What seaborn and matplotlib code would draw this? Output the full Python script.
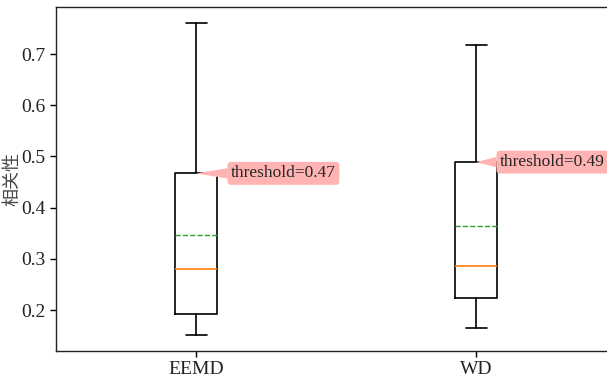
"""
Boxplot of correlation values: EEMD vs WD with Q3 threshold labels
"""

import matplotlib
matplotlib.use("Agg")
import matplotlib.pyplot as plt
import seaborn as sns

# Data
methods = ["EEMD", "WD"]
whisker_low = [0.151, 0.165]
q1 = [0.192, 0.223]
medians = [0.280, 0.286]
means = [0.346, 0.364]
q3 = [0.467, 0.489]
whisker_high = [0.760, 0.718]
thresholds = ["threshold=0.47", "threshold=0.49"]

sns.set_theme(style="ticks")
plt.rcParams['font.family'] = ['Liberation Serif', 'Noto Sans CJK SC']
plt.rcParams['xtick.direction'] = 'out'
plt.rcParams['ytick.direction'] = 'out'

stats = []
for i, name in enumerate(methods):
    stats.append({
        'label': name,
        'whislo': whisker_low[i],
        'q1': q1[i],
        'med': medians[i],
        'mean': means[i],
        'q3': q3[i],
        'whishi': whisker_high[i],
        'fliers': [],
    })

fig = plt.figure(figsize=(6.07, 3.78), dpi=100)
ax = fig.add_axes([56 / 607, 27 / 378, 560 / 607, 344 / 378])

ax.bxp(stats, positions=[1, 2], widths=0.15, showmeans=True, meanline=True,
       boxprops=dict(color='black', linewidth=1.2),
       whiskerprops=dict(color='black', linewidth=1.2),
       capprops=dict(color='black', linewidth=1.2),
       medianprops=dict(color='#ff7f0e', linewidth=1.2),
       meanprops=dict(color='#2ca02c', linestyle='--', linewidth=1.0))

ax.set_xlim(0.5, 2.5)
ax.set_ylim(0.12, 0.792)
ax.set_yticks([0.2, 0.3, 0.4, 0.5, 0.6, 0.7])
ax.set_xticks([1, 2])
ax.set_xticklabels(methods)
ax.tick_params(labelsize=14, length=4, width=1, colors='black', labelcolor='#222222')
ax.set_ylabel("相关性", fontsize=13, family=['Noto Sans CJK SC'], color='#444444')
ax.yaxis.set_label_coords(-0.062, 0.5)
for s in ax.spines.values():
    s.set_color('#222222')
    s.set_linewidth(1.0)

offsets = [(35, 0), (24, 0)]
for i, txt in enumerate(thresholds):
    ax.annotate(txt, xy=(i + 1, q3[i]), xytext=offsets[i], textcoords='offset pixels',
                fontsize=12.5, va='center', ha='left',
                bbox=dict(boxstyle='round,pad=0.2', fc=(1.0, 0.7, 0.7), ec='none'),
                arrowprops=dict(arrowstyle='wedge,tail_width=0.6', fc=(1.0, 0.7, 0.7),
                                ec='none', shrinkA=0, shrinkB=0))

plt.savefig("out.png", dpi=100)
plt.close()
print("Saved: out.png")
